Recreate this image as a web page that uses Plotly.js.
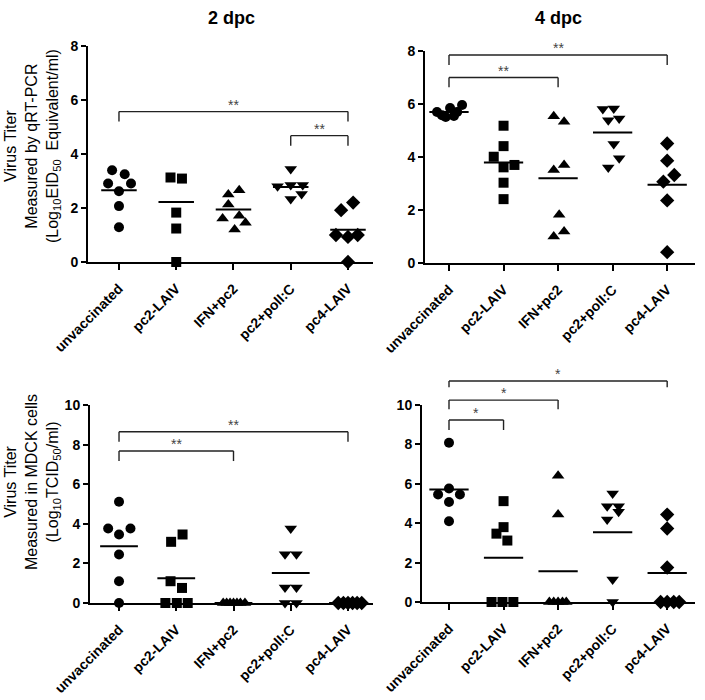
<!DOCTYPE html>
<html><head><meta charset="utf-8">
<script src="https://cdn.plot.ly/plotly-3.0.1.min.js"></script>
<style>html,body{margin:0;padding:0;background:#fff;}#chart{width:705px;height:700px;}</style>
</head><body><div id="chart"></div>
<script>
// ---------- data ----------
const categories = ['unvaccinated', 'pc2-LAIV', 'IFN+pc2', 'pc2+polI:C', 'pc4-LAIV'];
const panelTitles = ['2 dpc', '4 dpc'];

// Panel A: 2 dpc, qRT-PCR
const p1Values = [
  [3.40, 3.25, 2.91, 2.91, 2.62, 2.07, 1.29],
  [3.13, 3.09, 1.83, 1.24, 0],
  [2.66, 2.50, 2.13, 1.61, 1.71, 1.45, 1.20],
  [3.44, 2.81, 2.85, 2.85, 2.33, 2.52],
  [2.20, 1.92, 1.00, 0.93, 1.00, 0]
];
const p1Jitter = [
  [-0.12, 0.10, -0.19, 0.21, 0, 0, 0],
  [-0.10, 0.10, 0, 0, 0],
  [0.10, -0.09, -0.09, -0.19, 0.10, 0.21, 0.02],
  [0, -0.23, 0, 0.21, 0, 0.19],
  [0.09, -0.12, -0.21, 0, 0.17, 0]
];
const p1Means = [2.66, 2.22, 1.94, 2.78, 1.19];

// Panel B: 4 dpc, qRT-PCR
const p2Values = [
  [5.70, 5.58, 5.51, 5.85, 5.55, 5.70, 5.96],
  [5.18, 4.41, 4.01, 3.61, 3.70, 3.03, 2.41],
  [5.54, 5.33, 3.51, 3.70, 1.82, 1.19, 1.00],
  [5.81, 5.83, 5.39, 5.45, 4.49, 3.95, 3.60],
  [4.51, 3.86, 3.32, 3.07, 2.36, 0.41]
];
const p2Jitter = [
  [-0.22, -0.13, -0.06, 0.02, 0.09, 0.15, 0.24],
  [0, 0, -0.18, 0, 0.20, 0, 0],
  [-0.08, 0.11, -0.08, 0.11, 0.02, 0.11, -0.08],
  [-0.18, 0.02, -0.08, 0.12, 0.02, 0.12, -0.08],
  [0, 0, 0.13, -0.07, 0, 0]
];
const p2Means = [5.70, 3.79, 3.20, 4.92, 2.95];

// Panel C: 2 dpc, MDCK
const p3Values = [
  [5.11, 3.76, 3.76, 3.46, 2.45, 1.10, 0],
  [3.46, 3.09, 1.10, 0.76, 0, 0, 0],
  [0, 0, 0, 0, 0, 0, 0],
  [3.76, 2.46, 2.46, 0.78, 0.78, 0, 0],
  [0, 0, 0, 0, 0, 0]
];
const p3Jitter = [
  [0, -0.19, 0.20, 0, 0, 0, 0],
  [0.11, -0.09, -0.10, 0.10, -0.19, 0.01, 0.20],
  [-0.18, -0.12, -0.06, 0, 0.06, 0.12, 0.20],
  [0, -0.10, 0.10, -0.10, 0.10, -0.10, 0.10],
  [-0.17, -0.08, 0, 0.08, 0.16, 0.24]
];
const p3Means = [2.87, 1.25, 0, 1.52, 0];

// Panel D: 4 dpc, MDCK
const p4Values = [
  [8.08, 5.76, 5.46, 5.46, 5.08, 4.10],
  [5.12, 3.80, 3.47, 3.12, 0, 0, 0],
  [6.41, 4.44, 0, 0, 0, 0, 0],
  [5.51, 4.86, 4.86, 4.58, 4.19, 1.14, 0],
  [4.44, 3.73, 1.75, 0, 0, 0, 0]
];
const p4Jitter = [
  [0, 0, -0.20, 0.20, 0, 0],
  [0, 0, -0.13, 0.07, -0.22, -0.02, 0.18],
  [0, 0, -0.16, -0.08, 0, 0.08, 0.15],
  [0, -0.10, 0.11, 0.11, -0.10, 0, 0],
  [0, 0, 0, -0.12, 0, 0.12, 0.22]
];
const p4Means = [5.71, 2.24, 1.56, 3.54, 1.47];

// significance brackets: [fromGroup, toGroup, barLevel, legEnd, label]
const p1Brackets = [[0, 4, 5.57, 5.20, '**'], [3, 4, 4.68, 4.31, '**']];
const p2Brackets = [[0, 4, 7.85, 7.47, '**'], [0, 2, 7.00, 6.63, '**']];
const p3Brackets = [[0, 4, 8.65, 8.15, '**'], [0, 2, 7.68, 7.17, '**']];
const p4Brackets = [[0, 4, 11.22, 10.90, '*'], [0, 2, 10.25, 9.78, '*'], [0, 1, 9.24, 8.73, '*']];

const yTitleTop = ['Virus Titer', 'Measured by qRT-PCR', '(Log<sub>10</sub>EID<sub>50</sub>  Equivalent/ml)'];
const yTitleBottom = ['Virus Titer', 'Measured in MDCK cells', '(Log<sub>10</sub>TCID<sub>50</sub>/ml)'];

// ---------- layout geometry ----------
const W = 705, H = 700;
const FONT = 'Liberation Sans, Arial, sans-serif';
const symbols = ['circle', 'square', 'triangle-up', 'triangle-down', 'diamond'];
const sizes = [10, 10, 11, 11, 11];

const panels = [
  {vals: p1Values, jit: p1Jitter, means: p1Means, br: p1Brackets, xs: 'x', ys: 'y',
   xd: [88, 373], yd: [262, 46], xr: [-0.541, 4.437], yr: [0, 8], half: 0.31},
  {vals: p2Values, jit: p2Jitter, means: p2Means, br: p2Brackets, xs: 'x2', ys: 'y2',
   xd: [425, 695], yd: [263, 51], xr: [-0.44, 4.51], yr: [0, 8], half: 0.36},
  {vals: p3Values, jit: p3Jitter, means: p3Means, br: p3Brackets, xs: 'x3', ys: 'y3',
   xd: [90, 373], yd: [603, 405], xr: [-0.507, 4.437], yr: [0, 10], half: 0.33},
  {vals: p4Values, jit: p4Jitter, means: p4Means, br: p4Brackets, xs: 'x4', ys: 'y4',
   xd: [422, 695], yd: [602, 405], xr: [-0.495, 4.51], yr: [0, 10], half: 0.36}
];

const traces = [];
const shapes = [];
const annotations = [];
const layout = {
  width: W, height: H, margin: {l: 0, r: 0, t: 0, b: 0},
  paper_bgcolor: '#fff', plot_bgcolor: '#fff', showlegend: false,
  font: {family: FONT, color: '#000'}
};

panels.forEach((p, pi) => {
  const xDom = [p.xd[0] / W, p.xd[1] / W];
  const yDom = [1 - p.yd[0] / H, 1 - p.yd[1] / H];
  const px = v => xDom[0] + (v - p.xr[0]) / (p.xr[1] - p.xr[0]) * (xDom[1] - xDom[0]);
  const py = v => yDom[0] + (v - p.yr[0]) / (p.yr[1] - p.yr[0]) * (yDom[1] - yDom[0]);
  const sfx = pi === 0 ? '' : String(pi + 1);
  layout['xaxis' + sfx] = {
    domain: xDom, range: p.xr, anchor: 'y' + sfx,
    tickmode: 'array', tickvals: categories.map((c, i) => i), ticktext: categories,
    tickangle: -45, ticks: 'outside', ticklen: 6, tickwidth: 2, tickcolor: '#000',
    ticklabelstandoff: 5,
    showline: true, linewidth: 2, linecolor: '#000', showgrid: false, zeroline: false,
    tickfont: {family: FONT, size: 14, weight: 'bold', color: '#000'}, fixedrange: true
  };
  layout['yaxis' + sfx] = {
    domain: yDom, range: p.yr, anchor: 'x' + sfx, dtick: 2, tick0: 0,
    ticks: 'outside', ticklen: 5, tickwidth: 2, tickcolor: '#000',
    showline: true, linewidth: 2, linecolor: '#000', showgrid: false, zeroline: false,
    tickfont: {family: FONT, size: 14, weight: 'bold', color: '#000'}, fixedrange: true
  };
  // points
  p.vals.forEach((vals, gi) => {
    traces.push({
      type: 'scatter', mode: 'markers', xaxis: p.xs, yaxis: p.ys, cliponaxis: false,
      x: vals.map((v, k) => gi + p.jit[gi][k]), y: vals,
      marker: {symbol: symbols[gi], size: sizes[gi], color: '#000', line: {width: 0}},
      hoverinfo: 'skip'
    });
  });
  // mean lines
  const mx = [], my = [];
  p.means.forEach((m, gi) => { mx.push(gi - p.half, gi + p.half, null); my.push(m, m, null); });
  traces.push({type: 'scatter', mode: 'lines', xaxis: p.xs, yaxis: p.ys, x: mx, y: my,
    line: {color: '#000', width: 2}, hoverinfo: 'skip', cliponaxis: false});
  // brackets
  p.br.forEach(b => {
    const [a, c, top, leg, lab] = b;
    const ln = {color: '#222', width: 1.4};
    shapes.push({type: 'line', xref: 'paper', yref: 'paper', x0: px(a), x1: px(c), y0: py(top), y1: py(top), line: ln});
    shapes.push({type: 'line', xref: 'paper', yref: 'paper', x0: px(a), x1: px(a), y0: py(top), y1: py(leg), line: ln});
    shapes.push({type: 'line', xref: 'paper', yref: 'paper', x0: px(c), x1: px(c), y0: py(top), y1: py(leg), line: ln});
    annotations.push({xref: 'paper', yref: 'paper', x: px((a + c) / 2), y: py(top),
      text: lab, showarrow: false, xanchor: 'center', yanchor: 'bottom', yshift: -3,
      font: {family: FONT, size: 14, color: '#444'}});
  });
});

// column titles
annotations.push({xref: 'paper', yref: 'paper', x: 232 / W, y: 1 - 18 / H, text: panelTitles[0],
  showarrow: false, xanchor: 'center', yanchor: 'middle', font: {family: FONT, size: 18, weight: 'bold', color: '#000'}});
annotations.push({xref: 'paper', yref: 'paper', x: 558 / W, y: 1 - 18 / H, text: panelTitles[1],
  showarrow: false, xanchor: 'center', yanchor: 'middle', font: {family: FONT, size: 18, weight: 'bold', color: '#000'}});
// y titles
annotations.push({xref: 'paper', yref: 'paper', x: 32 / W, y: 1 - 146 / H, text: yTitleTop.join('<br>'),
  textangle: -90, showarrow: false, xanchor: 'center', yanchor: 'middle',
  font: {family: FONT, size: 16, color: '#000'}});
annotations.push({xref: 'paper', yref: 'paper', x: 32 / W, y: 1 - 482 / H, text: yTitleBottom.join('<br>'),
  textangle: -90, showarrow: false, xanchor: 'center', yanchor: 'middle',
  font: {family: FONT, size: 16, color: '#000'}});

layout.shapes = shapes;
layout.annotations = annotations;
Plotly.newPlot('chart', traces, layout, {staticPlot: true, displayModeBar: false});
</script></body></html>
